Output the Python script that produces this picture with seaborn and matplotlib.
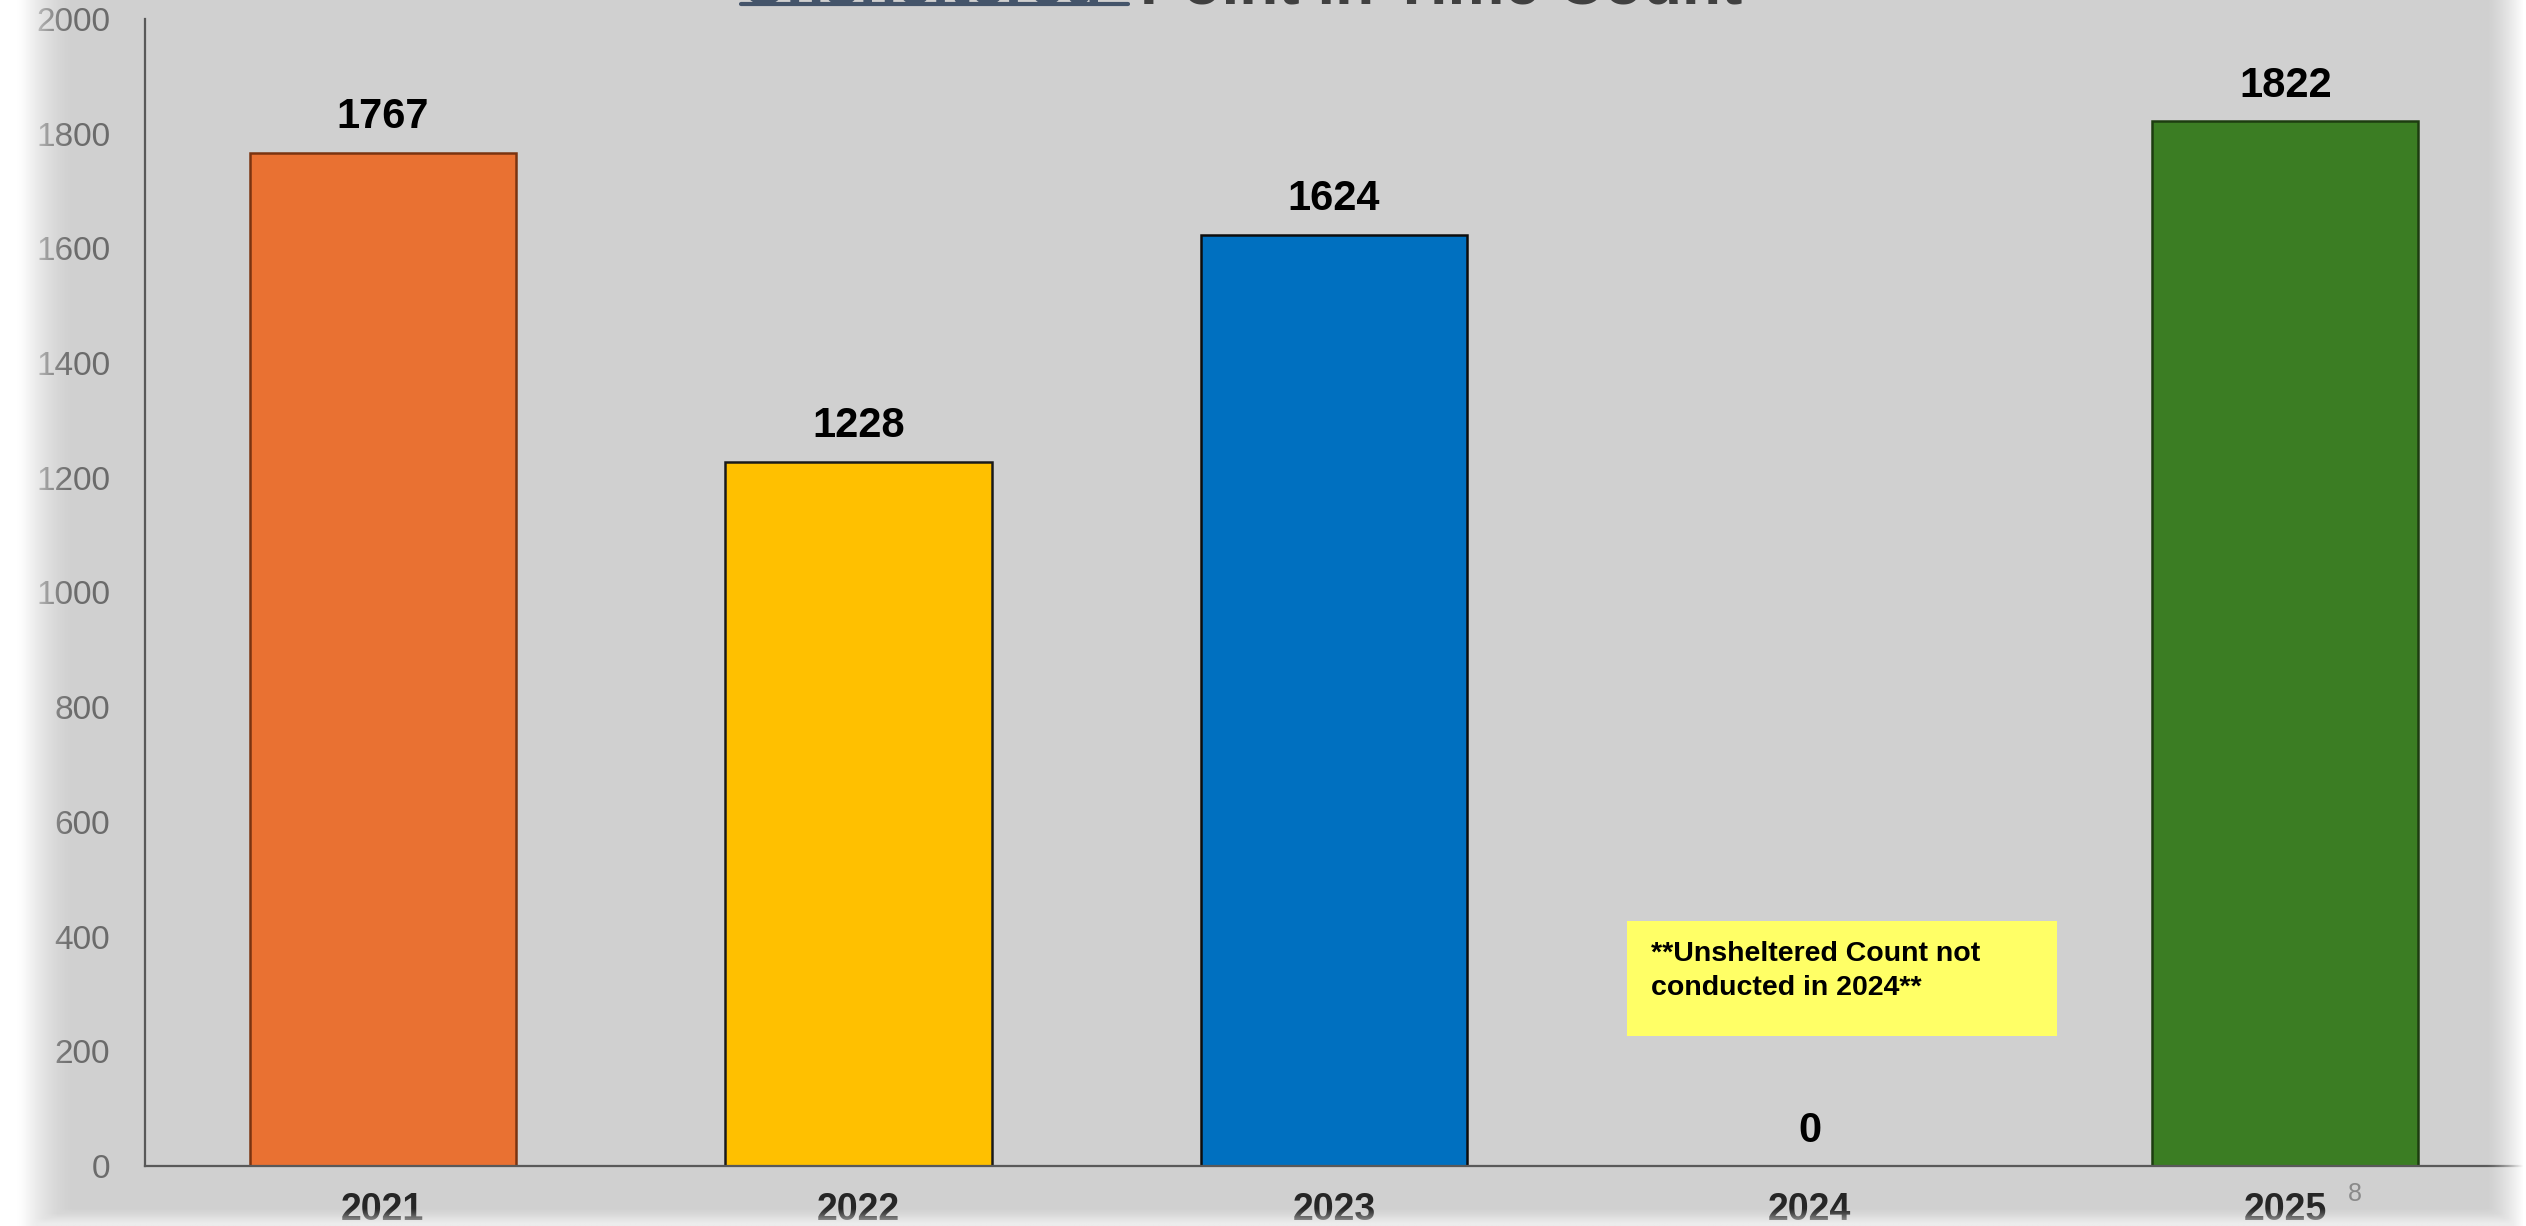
import numpy as np
import pandas as pd
import matplotlib
matplotlib.use("Agg")
import matplotlib.pyplot as plt
import matplotlib.patches as mpatches
import seaborn as sns

# data
years = ["2021", "2022", "2023", "2024", "2025"]
counts = [1767, 1228, 1624, 0, 1822]
bar_colors = ["#E97132", "#FFC000", "#0070C0", "#A6A6A6", "#3B7D23"]
edge_colors = ["#7a3310", "#1a1a1a", "#0d0d0d", "#1a1a1a", "#1d3d10"]
y_ticks = list(range(0, 2001, 200))
note_text = "**Unsheltered Count not\nconducted in 2024**"

W, H = 2526, 1226
bg = "#d0d0d0"

sns.set_theme(style="white")
plt.rcParams["font.family"] = ["Liberation Sans", "DejaVu Sans"]

fig = plt.figure(figsize=(W / 100, H / 100), dpi=100, facecolor=bg)
ax = fig.add_axes([145 / W, 60 / H, (2523 - 145) / W, (1166 - 19) / H])
ax.set_facecolor(bg)

df = pd.DataFrame({"year": years, "count": counts})
sns.barplot(data=df, x="year", y="count", hue="year", palette=bar_colors,
            width=0.56, legend=False, ax=ax, saturation=1)

for patch, ec in zip(ax.patches, edge_colors):
    patch.set_edgecolor(ec)
    patch.set_linewidth(1.8)

for cont in ax.containers:
    ax.bar_label(cont, fmt="%d", padding=11, fontsize=30, fontweight="bold",
                 color="black")

ax.set_xlim(-0.5, 4.5)
ax.set_ylim(0, 2000)
ax.set_yticks(y_ticks)
ax.set_yticklabels([str(v) for v in y_ticks], fontsize=24, color="#6b6b6b")
ax.tick_params(axis="y", length=0, pad=25)
ax.tick_params(axis="x", length=0, pad=19)
for lab in ax.get_xticklabels():
    lab.set_fontsize(27)
    lab.set_fontweight("bold")
    lab.set_color("#262626")
ax.set_xlabel("")
ax.set_ylabel("")
for side in ["top", "right"]:
    ax.spines[side].set_visible(False)
for side in ["left", "bottom"]:
    ax.spines[side].set_color("#595959")
    ax.spines[side].set_linewidth(1.6)

# title, mostly cut off at the top of the crop
fig.text(741 / W, 1 - 4 / H, "Unsheltered", fontsize=45, fontweight="bold",
         color="#44546A", ha="left", va="baseline")
fig.text(1140 / W, 1 - 4 / H, "Point in Time Count", fontsize=46,
         fontweight="bold", color="#404040", ha="left", va="baseline")
fig.add_artist(plt.Line2D([741 / W, 1128 / W], [1 - 4 / H, 1 - 4 / H],
                          color="#44546A", lw=3))

# yellow note box
fig.add_artist(mpatches.Rectangle((1627 / W, (H - 1036) / H), 430 / W, 115 / H,
                                  transform=fig.transFigure, facecolor="#FFFF66",
                                  edgecolor="none", zorder=4))
fig.text(1651 / W, 1 - 941 / H, note_text, fontsize=20.5, fontweight="bold",
         color="black", ha="left", va="top", linespacing=1.4, zorder=5)

# page number
fig.text(2355 / W, 1 - 1194 / H, "8", fontsize=18, color="#8a8a8a",
         ha="center", va="center")

# white fade on slide edges
gx = np.linspace(0, W, 506)
gy = np.linspace(0, H, 246)
XX, YY = np.meshgrid(gx, gy)
a_left = np.clip(1 - (XX - 18) / 55, 0, 1) ** 1.6
a_right = np.clip((XX - 2488) / 38, 0, 1) ** 1.5
a_bottom = np.clip((YY - 1212) / 14, 0, 1) * 0.6
alpha = np.maximum(np.maximum(a_left, a_right), a_bottom)
img = np.ones((len(gy), len(gx), 4))
img[..., 3] = alpha
ov = fig.add_axes([0, 0, 1, 1], zorder=10)
ov.imshow(img, extent=[0, W, H, 0], aspect="auto", interpolation="bilinear")
ov.set_xlim(0, W)
ov.set_ylim(H, 0)
ov.axis("off")
ov.patch.set_alpha(0)

fig.savefig("out.png", dpi=100, facecolor=bg)
